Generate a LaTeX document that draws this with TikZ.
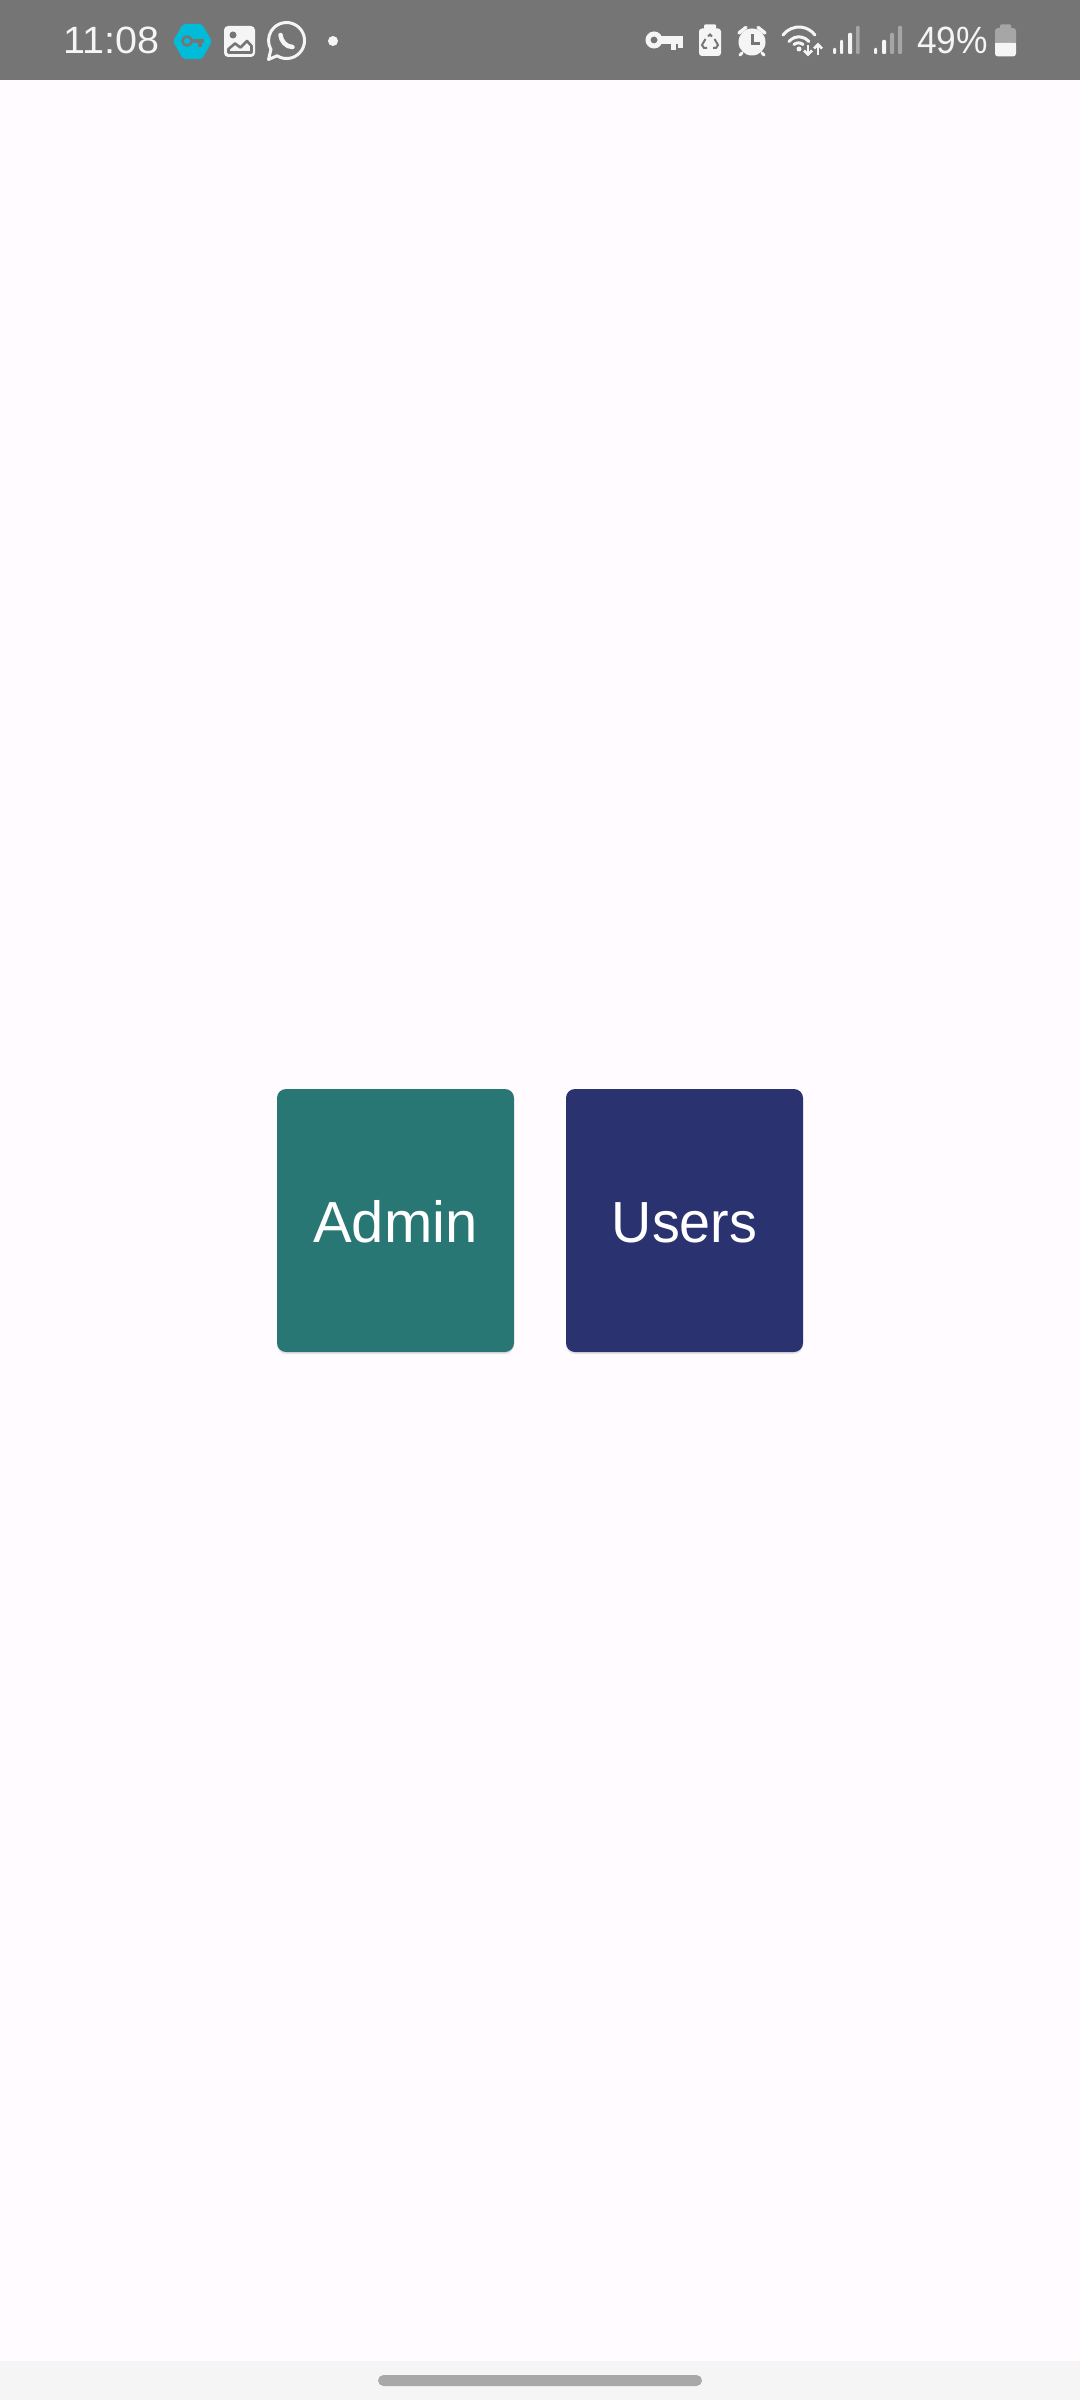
\documentclass[tikz,border=0pt]{standalone}
\usepackage{fontspec}
\setmainfont{Liberation Sans}
\newfontfamily\adminfont[FakeStretch=1.0]{Liberation Sans}
\newfontfamily\usersfont[FakeStretch=0.96]{Liberation Sans}
\newfontfamily\timefont[FakeStretch=1.04]{Liberation Sans}
\newfontfamily\pctfont[FakeStretch=0.93]{Liberation Sans}
\definecolor{pagebg}{HTML}{FFFBFE}
\definecolor{statusbg}{HTML}{757575}
\definecolor{navbg}{HTML}{F5F5F5}
\definecolor{pill}{HTML}{A8A8A8}
\definecolor{ink}{HTML}{F5F5F5}
\definecolor{dim}{HTML}{A6A6A6}
\definecolor{teal}{HTML}{297775}
\definecolor{navy}{HTML}{2B3270}
\definecolor{vpn}{HTML}{00BCD9}
\tikzset{
  btn/.style={rounded corners=9pt,minimum width=237pt,minimum height=263pt,inner sep=0pt,outer sep=0pt,
    text=white,text height=44pt,text depth=0pt},
  btnshadow/.style={fill=black,opacity=0.10,rounded corners=9pt},
  statustext/.style={text=ink,anchor=base west,inner sep=0pt,outer sep=0pt},
  solidicon/.style={fill=ink,draw=none},
  lineicon/.style={draw=ink,line width=3pt,fill=none},
  greyline/.style={draw=statusbg,line width=2pt,fill=none},
  baron/.style={fill=ink,rounded corners=1pt,draw=none},
  baroff/.style={fill=dim,rounded corners=1pt,draw=none}
}
\begin{document}
\begin{tikzpicture}[x=1pt,y=-1pt]
\useasboundingbox (0,0) rectangle (1080,2400);
% backgrounds
\fill[pagebg] (0,0) rectangle (1080,2400);
\fill[statusbg] (0,0) rectangle (1080,80);
\fill[navbg] (0,2361) rectangle (1080,2400);
\fill[pill,rounded corners=5.5pt] (378,2375) rectangle (702,2386);
% buttons
\fill[btnshadow] (277,1091) rectangle (514,1354);
\fill[btnshadow] (566,1091) rectangle (803,1354);
\node[btn,fill=teal,font=\adminfont\fontsize{58}{58}\selectfont] (admin) at (395.5,1220.5) {Admin};
\node[btn,fill=navy,font=\usersfont\fontsize{58}{58}\selectfont] (users) at (684.5,1220.5) {Users};
% status text
\node[statustext,font=\timefont\fontsize{38}{38}\selectfont] (time) at (63.5,53.7) {11:08};
\node[statustext,font=\pctfont\fontsize{38}{38}\selectfont] (pct) at (917,53.7) {49\%};
% vpn hexagon
\fill[vpn,rounded corners=2pt] (173,41.5) -- (183,24) -- (202,24) -- (212,41.5) -- (202,59) -- (183,59) -- cycle;
\draw[statusbg,line width=2.5pt] (187,41) circle (4.5);
\fill[statusbg] (191,39) rectangle (204,43.5);
\fill[statusbg] (198,43) rectangle (201.5,47);
% image icon
\fill[solidicon,rounded corners=4pt] (224,26) rectangle (255,57);
\fill[statusbg] (233,35) circle (3.5);
\draw[statusbg,line width=2.6pt,line join=round] (228.5,52.5) -- (228.5,49) -- (235,43.5) -- (240.5,47.5) -- (247,41) -- (251.5,46) -- (251.5,52.5) -- cycle;
% whatsapp
\draw[lineicon,line join=round] (277,55.8) arc[start angle=122,end angle=-210,radius=18] -- (268.5,59.5) -- cycle;
\draw[ink,line width=4.5pt,line cap=round] (280.5,35) .. controls (281,41) and (286,47) .. (292.5,47);
% dot
\fill[ink] (333,41) circle (5);
% key
\draw[ink,line width=5pt] (654,40) circle (6);
\fill[solidicon] (660,36) rectangle (683,44.5);
\fill[solidicon] (671,44) rectangle (675.5,50.5);
\fill[solidicon] (678,44) rectangle (683,48.5);
% battery saver
\fill[solidicon,rounded corners=3pt] (699,28.5) rectangle (721,56);
\fill[solidicon,rounded corners=1pt] (704,24.5) rectangle (716,31);
\draw[greyline] (708,36.5) -- (710,34.5) -- (712,36.5);
\draw[greyline] (714.5,39) -- (718,45) -- (716,48) -- (713,48);
\draw[greyline] (705.5,39) -- (702,45) -- (704,48) -- (707,48);
% alarm
\fill[solidicon] (752,42) circle (13.5);
\draw[statusbg,line width=3pt] (752,34) -- (752,43.5) -- (760,43.5);
\draw[ink,line width=3.5pt,line cap=round] (739,33) -- (746,27.5);
\draw[ink,line width=3.5pt,line cap=round] (765,33) -- (758,27.5);
\draw[ink,line width=3pt,line cap=round] (742,53) -- (740,55);
\draw[ink,line width=3pt,line cap=round] (762,53) -- (764,55);
% wifi
\draw[lineicon,line cap=round] (783,35) arc[start angle=-143,end angle=-37,radius=20];
\draw[lineicon,line cap=round] (789,41.5) arc[start angle=-140,end angle=-40,radius=13];
\draw[lineicon,line cap=round] (794,44.5) arc[start angle=-130,end angle=-50,radius=7];
\fill[ink] (799,49) circle (2.5);
\draw[ink,line width=2.6pt] (808,45) -- (808,54);
\draw[ink,line width=2.6pt] (804,50.5) -- (808,54.5) -- (812,50.5);
\draw[ink,line width=2.6pt] (818,55) -- (818,45);
\draw[ink,line width=2.6pt] (814,48.5) -- (818,44.5) -- (822,48.5);
% signal 1
\fill[baron] (833,48) rectangle (836,54);
\fill[baron] (840,40) rectangle (843,54);
\fill[baron] (848,33) rectangle (852,54);
\fill[baroff] (856,26) rectangle (859.5,54);
% signal 2
\fill[baron] (874,48) rectangle (877,54);
\fill[baron] (882,40) rectangle (886,54);
\fill[baroff] (890,33) rectangle (894,54);
\fill[baroff] (898,26) rectangle (902,54);
% battery
\fill[dim,rounded corners=3pt] (995,28) rectangle (1016,50);
\fill[dim,rounded corners=1pt] (1000,24.5) rectangle (1011,30);
\fill[ink,rounded corners=3pt] (995,43) rectangle (1016,56.5);
\fill[ink] (995,43) rectangle (1016,48);
\end{tikzpicture}
\end{document}
